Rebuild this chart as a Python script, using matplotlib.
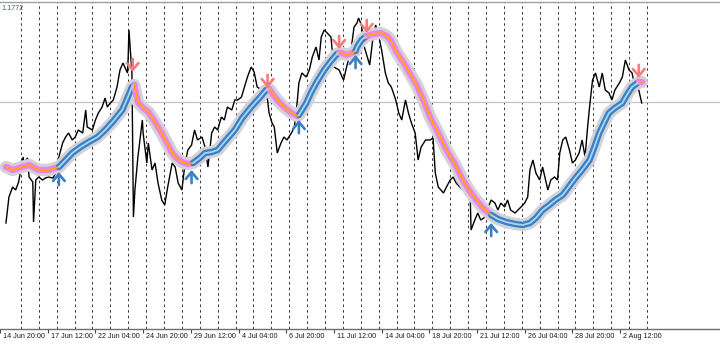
import matplotlib
matplotlib.use("Agg")
import matplotlib.pyplot as plt
import numpy as np
from matplotlib import font_manager
from matplotlib.transforms import blended_transform_factory

# ---------------- data ----------------
# hourly bar index and close price of the black price line
price_bars = [0, 4, 9, 13, 17, 23, 24, 29, 31, 36, 37, 40, 44, 49, 53, 57, 63, 67, 71, 76,
              80, 84, 89, 93, 97, 103, 107, 109, 116, 120, 124, 129, 133, 136, 140, 144, 149, 153, 157, 163,
              164, 165, 168, 169, 171, 173, 177, 183, 184, 189, 191, 196, 200, 204, 209, 213, 217, 223, 227, 231,
              236, 240, 244, 249, 253, 257, 263, 267, 271, 276, 280, 284, 289, 293, 297, 303, 307, 311, 316, 320,
              324, 329, 333, 337, 343, 347, 351, 353, 357, 360, 364, 369, 373, 377, 383, 387, 391, 393, 397, 403,
              407, 411, 416, 420, 423, 427, 431, 436, 440, 447, 451, 453, 457, 463, 467, 471, 473, 477, 480, 484,
              488, 492, 496, 500, 504, 509, 513, 517, 523, 527, 531, 536, 540, 544, 549, 553, 557, 563, 569, 573,
              576, 580, 587, 591, 596, 600, 604, 609, 613, 617, 623, 624, 629, 633, 637, 643, 647, 651, 656, 660,
              664, 669, 673, 677, 683, 687, 691, 696, 700, 703, 707, 711, 716, 720, 724, 727, 731, 736, 740, 743,
              747, 751, 756, 760, 764, 769, 773, 777, 780, 783, 787, 791, 796, 800, 804, 809, 813, 817, 823, 827,
              831, 836, 840, 844, 849, 853]
price_close = [1.1651, 1.1677, 1.1687, 1.1684, 1.1692, 1.1717, 1.1711, 1.1716, 1.1697, 1.1692,
               1.1652, 1.1694, 1.1697, 1.1694, 1.1696, 1.1697, 1.1696, 1.1701, 1.1717, 1.1731,
               1.1737, 1.1741, 1.1734, 1.1737, 1.1744, 1.1741, 1.1764, 1.1747, 1.1744, 1.1754,
               1.1761, 1.1767, 1.1776, 1.1767, 1.1771, 1.1774, 1.1787, 1.1804, 1.1811, 1.1801,
               1.1817, 1.1844, 1.1811, 1.1801, 1.1657, 1.1684, 1.1717, 1.1754, 1.1741, 1.1711,
               1.1731, 1.1704, 1.1711, 1.1691, 1.1674, 1.1669, 1.1687, 1.1711, 1.1707, 1.1691,
               1.1684, 1.1709, 1.1724, 1.1729, 1.1744, 1.1734, 1.1737, 1.1727, 1.1707, 1.1741,
               1.1747, 1.1744, 1.1757, 1.1754, 1.1767, 1.1764, 1.1774, 1.1774, 1.1777, 1.1787,
               1.1797, 1.1807, 1.1802, 1.1787, 1.1784, 1.1781, 1.1774, 1.1761, 1.1751, 1.1747,
               1.1721, 1.1731, 1.1737, 1.1734, 1.1741, 1.1747, 1.1774, 1.1791, 1.1801, 1.1797,
               1.1804, 1.1817, 1.1827, 1.1814, 1.1837, 1.1844, 1.1841, 1.1837, 1.1807, 1.1804,
               1.1797, 1.1794, 1.1807, 1.1824, 1.1847, 1.1851, 1.1856, 1.1849, 1.1829, 1.1819,
               1.1809, 1.1834, 1.1849, 1.1839, 1.1824, 1.1801, 1.1791, 1.1787, 1.1774, 1.1761,
               1.1754, 1.1774, 1.1761, 1.1751, 1.1741, 1.1714, 1.1727, 1.1734, 1.1734, 1.1736,
               1.1701, 1.1687, 1.1681, 1.1687, 1.1694, 1.1697, 1.1691, 1.1687, 1.1684, 1.1681,
               1.1674, 1.1644, 1.1654, 1.1661, 1.1654, 1.1657, 1.1667, 1.1674, 1.1671, 1.1664,
               1.1671, 1.1667, 1.1674, 1.1664, 1.1661, 1.1664, 1.1667, 1.1671, 1.1677, 1.1704,
               1.1714, 1.1701, 1.1694, 1.1707, 1.1694, 1.1684, 1.1694, 1.1697, 1.1694, 1.1721,
               1.1734, 1.1737, 1.1724, 1.1711, 1.1714, 1.1721, 1.1734, 1.1717, 1.1744, 1.1767,
               1.1794, 1.1801, 1.1787, 1.1801, 1.1784, 1.1781, 1.1774, 1.1784, 1.1791, 1.1797,
               1.1814, 1.1804, 1.1801, 1.1787, 1.1784, 1.1771]

# smoothed moving average
ma_bars = [0, 9, 21, 31, 44, 57, 71, 80, 89, 100, 111, 123, 133, 144, 156, 163, 169, 172,
           177, 184, 191, 200, 209, 216, 223, 229, 236, 244, 251, 260, 267, 276, 284, 293, 307,
           317, 329, 340, 349, 353, 360, 364, 373, 383, 391, 393, 403, 409, 417, 427, 435, 444,
           447, 451, 457, 464, 469, 471, 477, 484, 493, 503, 511, 516, 524, 533, 543, 551, 560,
           569, 580, 591, 603, 613, 623, 631, 640, 651, 660, 671, 683, 693, 703, 711, 720, 729,
           737, 747, 756, 764, 773, 783, 789, 796, 803, 809, 817, 827, 833, 840, 849, 853]
ma_price = [1.1707, 1.1704, 1.1707, 1.1709, 1.1704, 1.1704, 1.1707, 1.1714, 1.1721, 1.1727,
            1.1732, 1.1737, 1.1744, 1.1753, 1.1764, 1.1776, 1.1787, 1.1789, 1.1772, 1.1766,
            1.1762, 1.1752, 1.1741, 1.1731, 1.1721, 1.1716, 1.1712, 1.1710, 1.1711, 1.1716,
            1.1721, 1.1722, 1.1724, 1.1732, 1.1744, 1.1756, 1.1767, 1.1776, 1.1784, 1.1785,
            1.1778, 1.1774, 1.1767, 1.1761, 1.1758, 1.1759, 1.1771, 1.1781, 1.1792, 1.1804,
            1.1812, 1.1820, 1.1821, 1.1821, 1.1819, 1.1821, 1.1823, 1.1827, 1.1834, 1.1838,
            1.1840, 1.1841, 1.1838, 1.1834, 1.1822, 1.1812, 1.1799, 1.1789, 1.1774, 1.1757,
            1.1741, 1.1724, 1.1709, 1.1694, 1.1682, 1.1674, 1.1666, 1.1659, 1.1655, 1.1652,
            1.1650, 1.1649, 1.1651, 1.1656, 1.1664, 1.1669, 1.1674, 1.1679, 1.1688, 1.1696,
            1.1704, 1.1714, 1.1726, 1.1741, 1.1752, 1.1761, 1.1766, 1.1771, 1.1779, 1.1787,
            1.1792, 1.1792]
# bars where the MA trend flips (first regime is "down")
trend_switch_bars = [71, 172, 251, 353, 393, 447, 469, 484, 651, 849]

# signal arrows: bar and price of the arrow tip
up_arrow_bars = [71, 249, 393, 469, 651]
up_arrow_tips = [1.1702, 1.1704, 1.1754, 1.1819, 1.1651]
down_arrow_bars = [170, 351, 447, 484, 849]
down_arrow_tips = [1.1802, 1.1786, 1.1825, 1.1841, 1.1796]

current_price = 1.1772
price_label = "1.1772"

# x-axis labels (every 64 bars) and daily separators (every 24 bars)
time_label_bars = [-8, 56, 120, 184, 248, 312, 376, 440, 504, 568, 632, 696, 760, 824]
time_labels = ["14 Jun 20:00", "17 Jun 12:00", "22 Jun 04:00", "24 Jun 20:00", "29 Jun 12:00",
               "4 Jul 04:00", "6 Jul 20:00", "11 Jul 12:00", "14 Jul 04:00", "18 Jul 20:00",
               "21 Jul 12:00", "26 Jul 04:00", "28 Jul 20:00", "2 Aug 12:00"]
day_separator_bars = list(range(20, 861, 24))

# ---------------- figure ----------------
W, H = 720, 345
fig = plt.figure(figsize=(W / 100, H / 100), dpi=100, facecolor="white")
ax = fig.add_axes([0, 16 / H, 1, 327 / H])
ax.set_facecolor("white")
ax.set_xlim(0, 958)
ax.set_ylim(1.1545, 1.1872)

names = {f.name for f in font_manager.fontManager.ttflist}
if "Liberation Sans Narrow" in names:
    lab_family, lab_size = "Liberation Sans Narrow", 5.8
else:
    lab_family, lab_size = "Liberation Sans", 5.2

# grid
for b in day_separator_bars:
    ax.axvline(b, color="#3a3a3a", lw=0.75, linestyle=(0, (2.4, 3.0)), zorder=1)
ax.axhline(current_price, color="#c4c4c4", lw=0.9, zorder=1)

# price
ax.plot(price_bars, price_close, color="black", lw=1.0, zorder=2, solid_joinstyle="miter")

# moving average
mb = np.array(ma_bars)
mp = np.array(ma_price)
ax.plot(mb, mp, color="#d2d2d8", lw=9.0, solid_capstyle="round", solid_joinstyle="round", zorder=3)
bounds = [mb[0]] + trend_switch_bars + [mb[-1]]
for i in range(len(bounds) - 1):
    m = (mb >= bounds[i]) & (mb <= bounds[i + 1])
    down = (i % 2 == 0)
    band = "#ee82ee" if down else "#3a80c2"
    core = "#ffa500" if down else "#a9d6f5"
    ax.plot(mb[m], mp[m], color=band, lw=4.6, solid_capstyle="round", solid_joinstyle="round", zorder=4)
    ax.plot(mb[m], mp[m], color=core, lw=1.3, solid_capstyle="round", solid_joinstyle="round", zorder=5)

# arrows
astyle = "->,head_length=0.5,head_width=0.42"
for b, p in zip(up_arrow_bars, up_arrow_tips):
    ax.annotate("", xy=(b, p), xytext=(0, -9.5), textcoords="offset points",
                arrowprops=dict(arrowstyle=astyle, color="#3a80c2", lw=1.9, shrinkA=0, shrinkB=0),
                zorder=6)
for b, p in zip(down_arrow_bars, down_arrow_tips):
    ax.annotate("", xy=(b, p), xytext=(0, 9.5), textcoords="offset points",
                arrowprops=dict(arrowstyle=astyle, color="#f47c7c", lw=1.9, shrinkA=0, shrinkB=0),
                zorder=6)

# axes frame
for s in ("left", "right"):
    ax.spines[s].set_visible(False)
ax.spines["bottom"].set_color("#6e6e6e")
ax.spines["bottom"].set_linewidth(1.0)
ax.spines["top"].set_color("#a0a0a0")
ax.spines["top"].set_linewidth(1.0)
ax.set_yticks([])
ax.set_xticks(time_label_bars)
ax.set_xticklabels([])
ax.tick_params(axis="x", direction="out", length=3, width=0.8, color="#444444")

trans = blended_transform_factory(ax.transData, ax.transAxes)
for b, lab in zip(time_label_bars, time_labels):
    ax.annotate(lab, xy=(b, 0), xycoords=trans, xytext=(2.2, -3.0), textcoords="offset points",
                ha="left", va="top", fontsize=lab_size, family=lab_family, color="#1a1a1a",
                annotation_clip=False)

fig.text(1.5 / W, 1 - 8 / H, price_label, ha="left", va="center", fontsize=lab_size,
         family=lab_family, color="#4a5a80")

fig.savefig("out.png", dpi=100, facecolor="white")
